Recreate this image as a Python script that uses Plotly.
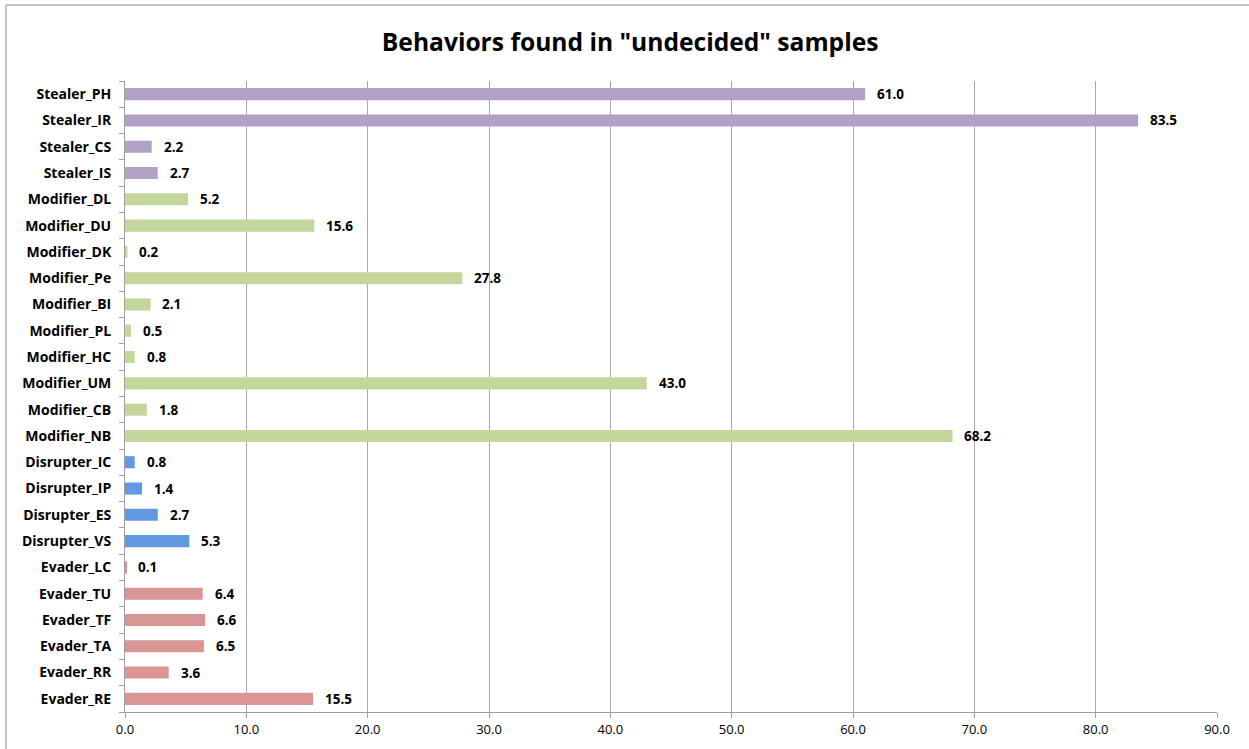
import plotly.graph_objects as go

# Behavior categories, listed top to bottom
categories = [
    "Stealer_PH", "Stealer_IR", "Stealer_CS", "Stealer_IS",
    "Modifier_DL", "Modifier_DU", "Modifier_DK", "Modifier_Pe", "Modifier_BI",
    "Modifier_PL", "Modifier_HC", "Modifier_UM", "Modifier_CB", "Modifier_NB",
    "Disrupter_IC", "Disrupter_IP", "Disrupter_ES", "Disrupter_VS",
    "Evader_LC", "Evader_TU", "Evader_TF", "Evader_TA", "Evader_RR", "Evader_RE",
]
values = [
    61.0, 83.5, 2.2, 2.7,
    5.2, 15.6, 0.2, 27.8, 2.1,
    0.5, 0.8, 43.0, 1.8, 68.2,
    0.8, 1.4, 2.7, 5.3,
    0.1, 6.4, 6.6, 6.5, 3.6, 15.5,
]
x_ticks = [0, 10, 20, 30, 40, 50, 60, 70, 80, 90]

group_colors = {
    "Stealer": "#b2a1c7",
    "Modifier": "#c3d69b",
    "Disrupter": "#6399e0",
    "Evader": "#d99694",
}
bar_colors = [group_colors[c.split("_")[0]] for c in categories]

fig = go.Figure()
fig.add_trace(go.Bar(
    y=categories,
    x=values,
    orientation="h",
    width=0.46,
    marker=dict(color=bar_colors, line=dict(width=0)),
    hoverinfo="x+y",
))

# value labels to the right of each bar
for cat, v in zip(categories, values):
    fig.add_annotation(
        x=v, y=cat, text=f"{v:.1f}", showarrow=False,
        xanchor="left", xshift=10,
        font=dict(family="Open Sans", size=13.5, color="#000000", weight="bold"),
    )

fig.update_layout(
    width=1249, height=749,
    margin=dict(l=125, r=32, t=81, b=37),
    paper_bgcolor="white", plot_bgcolor="white",
    showlegend=False,
    bargap=0.54,
    title=dict(
        text='<b>Behaviors found in "undecided" samples</b>',
        x=0.5045, xanchor="center", y=0.944, yanchor="middle",
        font=dict(family="Open Sans", size=24.6, color="#000000"),
    ),
    xaxis=dict(
        range=[0, 90], tickvals=x_ticks, tickformat=".1f",
        showgrid=True, gridcolor="#a8a8a8", gridwidth=1,
        showline=True, linecolor="#a0a0a0", linewidth=1,
        ticks="outside", ticklen=5, tickcolor="#a0a0a0",
        tickfont=dict(family="Open Sans", size=13, color="#000000"),
        zeroline=False, fixedrange=True,
    ),
    yaxis=dict(
        categoryorder="array", categoryarray=categories[::-1],
        showgrid=False,
        showline=True, linecolor="#a0a0a0", linewidth=1,
        ticks="outside", ticklen=5, tickcolor="#a0a0a0",
        tickson="boundaries", ticklabelstandoff=10,
        tickfont=dict(family="Open Sans", size=14, color="#000000", weight="bold"),
        fixedrange=True,
    ),
)

# chart frame: top and left edges
frame = dict(color="#c4c4c4", width=2)
fig.add_shape(type="line", xref="paper", yref="paper",
              x0=-0.109, x1=1.05, y0=1.1205, y1=1.1205, line=frame)
fig.add_shape(type="line", xref="paper", yref="paper",
              x0=-0.109, x1=-0.109, y0=-0.1, y1=1.1205, line=frame)

fig.write_html("out.html")
